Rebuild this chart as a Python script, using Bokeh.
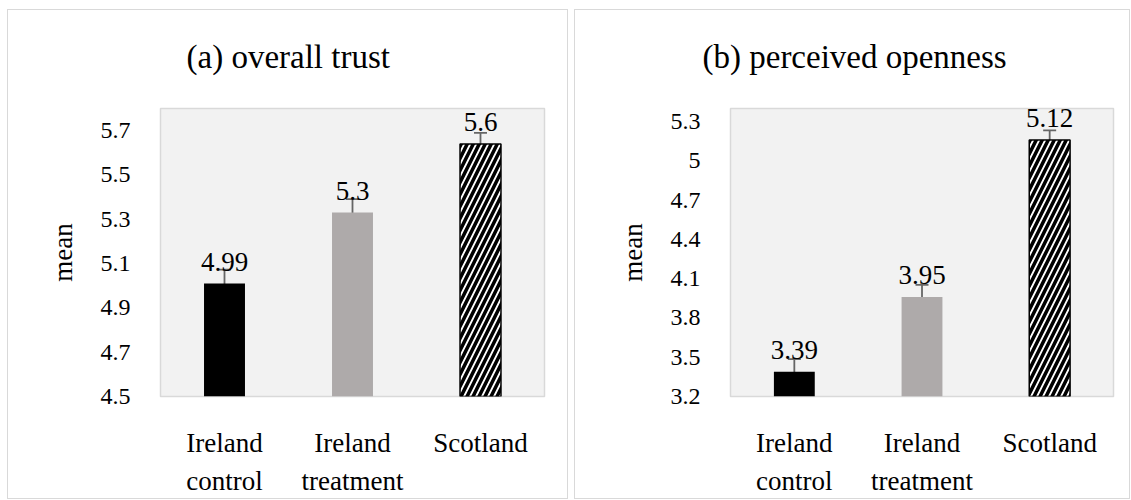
from bokeh.plotting import figure
from bokeh.layouts import row
from bokeh.models import (ColumnDataSource, FactorRange, Range1d, FixedTicker, Whisker,
                          TeeHead, Title)
from bokeh.core.properties import value
from bokeh.embed import file_html
from bokeh.resources import INLINE

FONT = "Liberation Serif"

category_line1 = ["Ireland", "Ireland", "Scotland"]
category_line2 = ["control", "treatment", ""]
categories = list(zip(category_line2, category_line1))

trust_means = [5.01, 5.33, 5.64]
trust_err = [0.063, 0.061, 0.05]
trust_labels = ["4.99", "5.3", "5.6"]
trust_ticks = [4.5, 4.7, 4.9, 5.1, 5.3, 5.5, 5.7]
trust_tick_labels = ["4.5", "4.7", "4.9", "5.1", "5.3", "5.5", "5.7"]

open_means = [3.39, 3.96, 5.16]
open_err = [0.095, 0.092, 0.073]
open_labels = ["3.39", "3.95", "5.12"]
open_ticks = [3.2, 3.5, 3.8, 4.1, 4.4, 4.7, 5.0, 5.3]
open_tick_labels = ["3.2", "3.5", "3.8", "4.1", "4.4", "4.7", "5", "5.3"]

bar_colors = ["#000000", "#aeaaaa", "#ffffff"]
hatches = [" ", " ", "/"]
bar_line_widths = [0, 0, 1.5]


def style_axis(ax, size, standoff):
    ax.axis_line_color = None
    ax.major_tick_line_color = None
    ax.minor_tick_line_color = None
    ax.major_label_text_color = "#000000"
    ax.major_label_text_font = FONT
    ax.major_label_text_font_size = size
    ax.major_label_standoff = standoff


def make_panel(title, means, errs, labels, ticks, tick_labels, y0, y1,
               width, left, right, title_offset):
    xr = FactorRange(*categories, range_padding=0, group_padding=0, factor_padding=0)
    p = figure(x_range=xr, y_range=Range1d(y0, y1),
               width=width, height=490, output_backend="svg",
               toolbar_location=None, tools="",
               min_border_left=left, min_border_right=right,
               min_border_top=98, min_border_bottom=104,
               styles={"border": "1.5px solid #d9d9d9", "box-sizing": "border-box"})
    p.title.text = title
    p.title.text_font = FONT
    p.title.text_font_size = "33px"
    p.title.text_font_style = "normal"
    p.title.text_color = "#000000"
    p.title.align = "left"
    p.title.offset = title_offset
    p.add_layout(Title(text=" ", text_font_size="15px"), "above")

    p.background_fill_color = "#f2f2f2"
    p.border_fill_color = "#ffffff"
    p.outline_line_color = "#d9d9d9"
    p.outline_line_width = 1.5
    p.xgrid.grid_line_color = None
    p.ygrid.grid_line_color = None

    src = ColumnDataSource(dict(
        cat=categories, mean=means, upper=[m + e for m, e in zip(means, errs)],
        lower=[m - e for m, e in zip(means, errs)], label=labels,
        color=bar_colors, hatch=hatches, lw=bar_line_widths,
    ))
    p.vbar(x="cat", top="mean", bottom=y0, width=0.32, source=src,
           fill_color="color", line_color="#000000", line_width="lw",
           hatch_pattern="hatch", hatch_color="#000000", hatch_weight=3.5,
           hatch_scale=12)

    w = Whisker(base="cat", upper="upper", lower="lower", source=src,
                line_color="#666666", line_width=1.8,
                upper_head=TeeHead(size=13, line_color="#666666", line_width=1.8),
                lower_head=TeeHead(size=13, line_color="#666666", line_width=1.8))
    p.add_layout(w)

    p.text(x="cat", y="mean", text="label", source=src, text_align="center",
           text_baseline="alphabetic", y_offset=-22,
           text_font=value(FONT), text_font_size="27px", text_color="#000000")

    p.yaxis.ticker = FixedTicker(ticks=ticks)
    p.yaxis.major_label_overrides = {t: s for t, s in zip(ticks, tick_labels)}
    p.yaxis.axis_label = "mean"
    p.yaxis.axis_label_text_font = FONT
    p.yaxis.axis_label_text_font_size = "27px"
    p.yaxis.axis_label_text_font_style = "normal"
    p.yaxis.axis_label_text_color = "#000000"
    p.yaxis.axis_label_standoff = 20
    style_axis(p.yaxis[0], "24px", 24)

    xa = p.xaxis[0]
    style_axis(xa, "27px", 5)
    xa.major_tick_out = 26
    xa.major_tick_in = 0
    xa.group_text_font = FONT
    xa.group_text_font_size = "27px"
    xa.group_text_font_style = "normal"
    xa.group_text_color = "#000000"
    xa.separator_line_color = None
    return p


p1 = make_panel("(a) overall trust", trust_means, trust_err, trust_labels,
                trust_ticks, trust_tick_labels, 4.5, 5.8, 561, 152, 25, 26)
p2 = make_panel("(b) perceived openness", open_means, open_err, open_labels,
                open_ticks, open_tick_labels, 3.2, 5.4, 556, 155, 18, -28)

layout = row(p1, p2, spacing=6)
layout.margin = (9, 0, 0, 7)
open("out.html", "w").write(file_html(layout, INLINE))
